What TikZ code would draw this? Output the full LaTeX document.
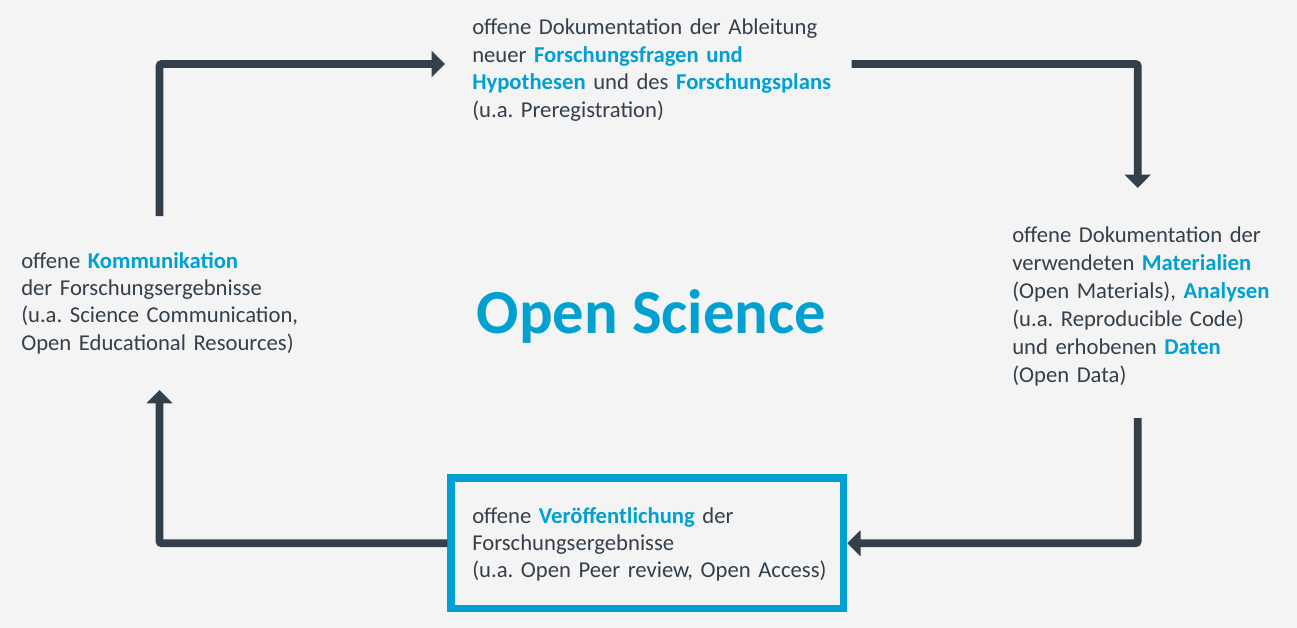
\documentclass[tikz,border=0pt]{standalone}
\usepackage{fontspec}
\setmainfont{Carlito}
\usetikzlibrary{arrows.meta}
\definecolor{bgc}{HTML}{F4F4F4}
\definecolor{ink}{HTML}{333F4A}
\definecolor{osblue}{HTML}{00A0D1}
\newcommand{\osb}[1]{\textbf{\textcolor{osblue}{#1}}}
\frenchspacing
\begin{document}
\begin{tikzpicture}[x=0.75pt,y=-0.75pt,
  txt/.style={anchor=base west, inner sep=0pt, text width=#1, align=left,
    font=\fontsize{17}{20.6}\selectfont, text=ink},
  flow/.style={draw=ink, line width=5.7pt, rounded corners=1.5pt,
    -{Triangle[length=10pt,width=19pt]}},
  pubbox/.style={draw=osblue, line width=5.6pt, minimum width=294.4pt,
    minimum height=97.9pt, inner sep=0pt}
]
\fill[bgc] (0,0) rectangle (1297,628);
\useasboundingbox (0,0) rectangle (1297,628);

\node[txt=330pt] (plan) at (472,35) {offene Dokumentation der Ableitung\\
neuer \osb{Forschungsfragen und}\\
\osb{Hypothesen} und des \osb{Forschungsplans}\\
(u.a. Preregistration)};

\node[txt=200pt, font=\fontsize{17}{21}\selectfont] (mat) at (1012,242) {offene Dokumentation der\\
verwendeten \osb{Materialien}\\
(Open Materials), \osb{Analysen}\\
(u.a. Reproducible Code)\\
und erhobenen \osb{Daten}\\
(Open Data)};

\node[txt=240pt] (komm) at (21,268) {offene \osb{Kommunikation}\\
der Forschungsergebnisse\\
(u.a. Science Communication,\\
Open Educational Resources)};

\node[font=\fontsize{47}{50}\selectfont\bfseries, text=osblue, anchor=base, inner sep=0pt] (os) at (651.5,333) {Open Science};

\node[pubbox] (pub) at (647.25,543.25) {};
\node[txt=290pt] (pubtext) at (472,523) {offene \osb{Veröffentlichung} der\\
Forschungsergebnisse\\
(u.a. Open Peer review, Open Access)};

\coordinate (a1s) at (159.5,216);
\coordinate (a1e) at (445,64);
\coordinate (a2s) at (851.7,64);
\coordinate (a2e) at (1137.7,188);
\coordinate (a3s) at (1137.7,418);
\coordinate (a4e) at (159.5,390);

\draw[flow] (a1s) |- (a1e);
\draw[flow] (a2s) -| (a2e);
\draw[flow] (a3s) |- (pub.east);
\draw[flow] (pub.west) -| (a4e);
\end{tikzpicture}
\end{document}
